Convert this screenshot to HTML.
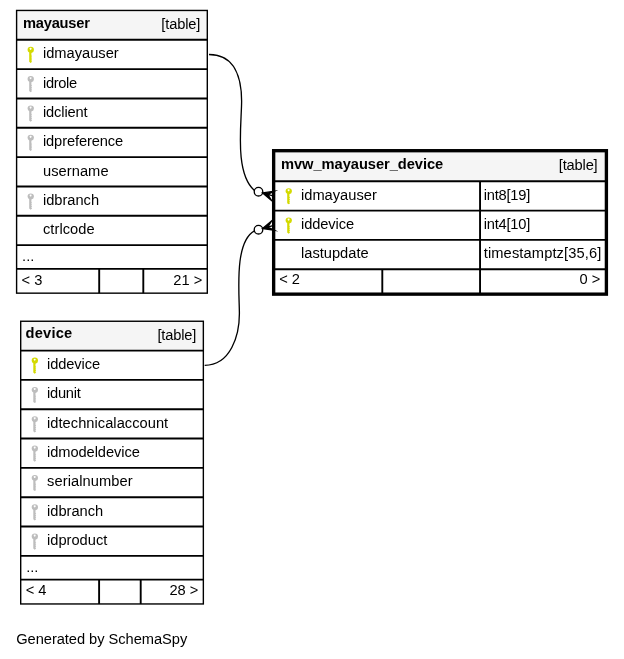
<!DOCTYPE html>
<html><head><meta charset="utf-8"><title>SchemaSpy diagram</title>
<style>html,body{margin:0;padding:0;background:#fff}svg{display:block}text{font-family:"Liberation Sans",sans-serif;fill:#000}svg{will-change:transform}</style></head>
<body>
<svg width="624" height="659" viewBox="0 0 624 659">
<rect width="624" height="659" fill="#fff"/>
<rect x="16.60" y="10.45" width="190.70" height="29.33" fill="#f5f5f5" stroke="none" stroke-width="1.33"/>
<text x="23.00" y="28.00" font-weight="bold" textLength="66.85" lengthAdjust="spacing" font-size="14.67">mayauser</text>
<text x="200.30" y="28.85" text-anchor="end" textLength="38.94" lengthAdjust="spacing" font-size="14.67">[table]</text>
<g transform="translate(27.50,46.78)" fill="#d4da00"><path fill-rule="evenodd" d="M3.25 0 A3.2 3.1 0 0 1 6.45 3.1 A3.2 3.1 0 0 1 3.9 6.1 L3.9 8.7 L4.6 9.3 L3.9 9.9 L3.9 10.7 L4.6 11.3 L3.9 11.9 L3.9 12.5 L4.6 13.1 L3.9 13.7 L3.9 14.4 L4.6 15 L3.1 16.2 L1.7 15 L1.7 5.7 A3.2 3.1 0 0 1 0.05 3.1 A3.2 3.1 0 0 1 3.25 0 Z M3.1 1.05 A0.95 0.95 0 1 0 3.11 1.05 Z"/></g>
<text x="42.95" y="58.00" font-size="14.67">idmayauser</text>
<g transform="translate(27.50,76.11)" fill="#bdbdbd"><path fill-rule="evenodd" d="M3.25 0 A3.2 3.1 0 0 1 6.45 3.1 A3.2 3.1 0 0 1 3.9 6.1 L3.9 8.7 L4.6 9.3 L3.9 9.9 L3.9 10.7 L4.6 11.3 L3.9 11.9 L3.9 12.5 L4.6 13.1 L3.9 13.7 L3.9 14.4 L4.6 15 L3.1 16.2 L1.7 15 L1.7 5.7 A3.2 3.1 0 0 1 0.05 3.1 A3.2 3.1 0 0 1 3.25 0 Z M3.1 1.05 A0.95 0.95 0 1 0 3.11 1.05 Z"/></g>
<text x="42.95" y="88.00" textLength="34.26" lengthAdjust="spacing" font-size="14.67">idrole</text>
<g transform="translate(27.50,105.44)" fill="#bdbdbd"><path fill-rule="evenodd" d="M3.25 0 A3.2 3.1 0 0 1 6.45 3.1 A3.2 3.1 0 0 1 3.9 6.1 L3.9 8.7 L4.6 9.3 L3.9 9.9 L3.9 10.7 L4.6 11.3 L3.9 11.9 L3.9 12.5 L4.6 13.1 L3.9 13.7 L3.9 14.4 L4.6 15 L3.1 16.2 L1.7 15 L1.7 5.7 A3.2 3.1 0 0 1 0.05 3.1 A3.2 3.1 0 0 1 3.25 0 Z M3.1 1.05 A0.95 0.95 0 1 0 3.11 1.05 Z"/></g>
<text x="42.95" y="117.00" textLength="44.73" lengthAdjust="spacing" font-size="14.67">idclient</text>
<g transform="translate(27.50,134.77)" fill="#bdbdbd"><path fill-rule="evenodd" d="M3.25 0 A3.2 3.1 0 0 1 6.45 3.1 A3.2 3.1 0 0 1 3.9 6.1 L3.9 8.7 L4.6 9.3 L3.9 9.9 L3.9 10.7 L4.6 11.3 L3.9 11.9 L3.9 12.5 L4.6 13.1 L3.9 13.7 L3.9 14.4 L4.6 15 L3.1 16.2 L1.7 15 L1.7 5.7 A3.2 3.1 0 0 1 0.05 3.1 A3.2 3.1 0 0 1 3.25 0 Z M3.1 1.05 A0.95 0.95 0 1 0 3.11 1.05 Z"/></g>
<text x="42.95" y="146.00" textLength="80.18" lengthAdjust="spacing" font-size="14.67">idpreference</text>
<text x="42.95" y="176.00" textLength="65.59" lengthAdjust="spacing" font-size="14.67">username</text>
<g transform="translate(27.50,193.43)" fill="#bdbdbd"><path fill-rule="evenodd" d="M3.25 0 A3.2 3.1 0 0 1 6.45 3.1 A3.2 3.1 0 0 1 3.9 6.1 L3.9 8.7 L4.6 9.3 L3.9 9.9 L3.9 10.7 L4.6 11.3 L3.9 11.9 L3.9 12.5 L4.6 13.1 L3.9 13.7 L3.9 14.4 L4.6 15 L3.1 16.2 L1.7 15 L1.7 5.7 A3.2 3.1 0 0 1 0.05 3.1 A3.2 3.1 0 0 1 3.25 0 Z M3.1 1.05 A0.95 0.95 0 1 0 3.11 1.05 Z"/></g>
<text x="42.95" y="205.00" textLength="56.13" lengthAdjust="spacing" font-size="14.67">idbranch</text>
<text x="42.95" y="234.00" textLength="51.73" lengthAdjust="spacing" font-size="14.67">ctrlcode</text>
<text x="22.10" y="261.39" fill="#505050" font-size="14.67">...</text>
<text x="21.60" y="284.66" font-size="14.67">&lt; 3</text>
<text x="202.30" y="284.66" text-anchor="end" font-size="14.67">21 &gt;</text>
<line x1="16.60" y1="39.78" x2="207.30" y2="39.78" stroke="#000" stroke-width="1.9"/>
<line x1="16.60" y1="69.11" x2="207.30" y2="69.11" stroke="#000" stroke-width="1.9"/>
<line x1="16.60" y1="98.44" x2="207.30" y2="98.44" stroke="#000" stroke-width="1.9"/>
<line x1="16.60" y1="127.77" x2="207.30" y2="127.77" stroke="#000" stroke-width="1.9"/>
<line x1="16.60" y1="157.10" x2="207.30" y2="157.10" stroke="#000" stroke-width="1.9"/>
<line x1="16.60" y1="186.43" x2="207.30" y2="186.43" stroke="#000" stroke-width="1.9"/>
<line x1="16.60" y1="215.76" x2="207.30" y2="215.76" stroke="#000" stroke-width="1.9"/>
<line x1="16.60" y1="245.09" x2="207.30" y2="245.09" stroke="#000" stroke-width="1.9"/>
<line x1="16.60" y1="268.86" x2="207.30" y2="268.86" stroke="#000" stroke-width="1.9"/>
<line x1="99.20" y1="268.86" x2="99.20" y2="293.16" stroke="#000" stroke-width="1.9"/>
<line x1="143.30" y1="268.86" x2="143.30" y2="293.16" stroke="#000" stroke-width="1.9"/>
<rect x="16.60" y="10.45" width="190.70" height="282.71" fill="none" stroke="#000" stroke-width="1.4"/>
<rect x="20.70" y="321.25" width="182.65" height="29.33" fill="#f5f5f5" stroke="none" stroke-width="1.33"/>
<text x="25.60" y="338.00" font-weight="bold" textLength="46.64" lengthAdjust="spacing" font-size="14.67">device</text>
<text x="196.35" y="339.65" text-anchor="end" textLength="38.94" lengthAdjust="spacing" font-size="14.67">[table]</text>
<g transform="translate(31.60,357.58)" fill="#d4da00"><path fill-rule="evenodd" d="M3.25 0 A3.2 3.1 0 0 1 6.45 3.1 A3.2 3.1 0 0 1 3.9 6.1 L3.9 8.7 L4.6 9.3 L3.9 9.9 L3.9 10.7 L4.6 11.3 L3.9 11.9 L3.9 12.5 L4.6 13.1 L3.9 13.7 L3.9 14.4 L4.6 15 L3.1 16.2 L1.7 15 L1.7 5.7 A3.2 3.1 0 0 1 0.05 3.1 A3.2 3.1 0 0 1 3.25 0 Z M3.1 1.05 A0.95 0.95 0 1 0 3.11 1.05 Z"/></g>
<text x="47.00" y="369.00" textLength="53.18" lengthAdjust="spacing" font-size="14.67">iddevice</text>
<g transform="translate(31.60,386.91)" fill="#bdbdbd"><path fill-rule="evenodd" d="M3.25 0 A3.2 3.1 0 0 1 6.45 3.1 A3.2 3.1 0 0 1 3.9 6.1 L3.9 8.7 L4.6 9.3 L3.9 9.9 L3.9 10.7 L4.6 11.3 L3.9 11.9 L3.9 12.5 L4.6 13.1 L3.9 13.7 L3.9 14.4 L4.6 15 L3.1 16.2 L1.7 15 L1.7 5.7 A3.2 3.1 0 0 1 0.05 3.1 A3.2 3.1 0 0 1 3.25 0 Z M3.1 1.05 A0.95 0.95 0 1 0 3.11 1.05 Z"/></g>
<text x="47.00" y="398.00" textLength="33.85" lengthAdjust="spacing" font-size="14.67">idunit</text>
<g transform="translate(31.60,416.24)" fill="#bdbdbd"><path fill-rule="evenodd" d="M3.25 0 A3.2 3.1 0 0 1 6.45 3.1 A3.2 3.1 0 0 1 3.9 6.1 L3.9 8.7 L4.6 9.3 L3.9 9.9 L3.9 10.7 L4.6 11.3 L3.9 11.9 L3.9 12.5 L4.6 13.1 L3.9 13.7 L3.9 14.4 L4.6 15 L3.1 16.2 L1.7 15 L1.7 5.7 A3.2 3.1 0 0 1 0.05 3.1 A3.2 3.1 0 0 1 3.25 0 Z M3.1 1.05 A0.95 0.95 0 1 0 3.11 1.05 Z"/></g>
<text x="47.00" y="428.00" textLength="121.19" lengthAdjust="spacing" font-size="14.67">idtechnicalaccount</text>
<g transform="translate(31.60,445.57)" fill="#bdbdbd"><path fill-rule="evenodd" d="M3.25 0 A3.2 3.1 0 0 1 6.45 3.1 A3.2 3.1 0 0 1 3.9 6.1 L3.9 8.7 L4.6 9.3 L3.9 9.9 L3.9 10.7 L4.6 11.3 L3.9 11.9 L3.9 12.5 L4.6 13.1 L3.9 13.7 L3.9 14.4 L4.6 15 L3.1 16.2 L1.7 15 L1.7 5.7 A3.2 3.1 0 0 1 0.05 3.1 A3.2 3.1 0 0 1 3.25 0 Z M3.1 1.05 A0.95 0.95 0 1 0 3.11 1.05 Z"/></g>
<text x="47.00" y="457.00" textLength="92.80" lengthAdjust="spacing" font-size="14.67">idmodeldevice</text>
<g transform="translate(31.60,474.90)" fill="#bdbdbd"><path fill-rule="evenodd" d="M3.25 0 A3.2 3.1 0 0 1 6.45 3.1 A3.2 3.1 0 0 1 3.9 6.1 L3.9 8.7 L4.6 9.3 L3.9 9.9 L3.9 10.7 L4.6 11.3 L3.9 11.9 L3.9 12.5 L4.6 13.1 L3.9 13.7 L3.9 14.4 L4.6 15 L3.1 16.2 L1.7 15 L1.7 5.7 A3.2 3.1 0 0 1 0.05 3.1 A3.2 3.1 0 0 1 3.25 0 Z M3.1 1.05 A0.95 0.95 0 1 0 3.11 1.05 Z"/></g>
<text x="47.00" y="486.00" textLength="85.72" lengthAdjust="spacing" font-size="14.67">serialnumber</text>
<g transform="translate(31.60,504.23)" fill="#bdbdbd"><path fill-rule="evenodd" d="M3.25 0 A3.2 3.1 0 0 1 6.45 3.1 A3.2 3.1 0 0 1 3.9 6.1 L3.9 8.7 L4.6 9.3 L3.9 9.9 L3.9 10.7 L4.6 11.3 L3.9 11.9 L3.9 12.5 L4.6 13.1 L3.9 13.7 L3.9 14.4 L4.6 15 L3.1 16.2 L1.7 15 L1.7 5.7 A3.2 3.1 0 0 1 0.05 3.1 A3.2 3.1 0 0 1 3.25 0 Z M3.1 1.05 A0.95 0.95 0 1 0 3.11 1.05 Z"/></g>
<text x="47.00" y="516.00" textLength="56.13" lengthAdjust="spacing" font-size="14.67">idbranch</text>
<g transform="translate(31.60,533.56)" fill="#bdbdbd"><path fill-rule="evenodd" d="M3.25 0 A3.2 3.1 0 0 1 6.45 3.1 A3.2 3.1 0 0 1 3.9 6.1 L3.9 8.7 L4.6 9.3 L3.9 9.9 L3.9 10.7 L4.6 11.3 L3.9 11.9 L3.9 12.5 L4.6 13.1 L3.9 13.7 L3.9 14.4 L4.6 15 L3.1 16.2 L1.7 15 L1.7 5.7 A3.2 3.1 0 0 1 0.05 3.1 A3.2 3.1 0 0 1 3.25 0 Z M3.1 1.05 A0.95 0.95 0 1 0 3.11 1.05 Z"/></g>
<text x="47.00" y="545.00" font-size="14.67">idproduct</text>
<text x="26.20" y="572.19" fill="#505050" font-size="14.67">...</text>
<text x="25.70" y="595.46" font-size="14.67">&lt; 4</text>
<text x="198.35" y="595.46" text-anchor="end" font-size="14.67">28 &gt;</text>
<line x1="20.70" y1="350.58" x2="203.35" y2="350.58" stroke="#000" stroke-width="1.9"/>
<line x1="20.70" y1="379.91" x2="203.35" y2="379.91" stroke="#000" stroke-width="1.9"/>
<line x1="20.70" y1="409.24" x2="203.35" y2="409.24" stroke="#000" stroke-width="1.9"/>
<line x1="20.70" y1="438.57" x2="203.35" y2="438.57" stroke="#000" stroke-width="1.9"/>
<line x1="20.70" y1="467.90" x2="203.35" y2="467.90" stroke="#000" stroke-width="1.9"/>
<line x1="20.70" y1="497.23" x2="203.35" y2="497.23" stroke="#000" stroke-width="1.9"/>
<line x1="20.70" y1="526.56" x2="203.35" y2="526.56" stroke="#000" stroke-width="1.9"/>
<line x1="20.70" y1="555.89" x2="203.35" y2="555.89" stroke="#000" stroke-width="1.9"/>
<line x1="20.70" y1="579.66" x2="203.35" y2="579.66" stroke="#000" stroke-width="1.9"/>
<line x1="99.10" y1="579.66" x2="99.10" y2="603.96" stroke="#000" stroke-width="1.9"/>
<line x1="140.70" y1="579.66" x2="140.70" y2="603.96" stroke="#000" stroke-width="1.9"/>
<rect x="20.70" y="321.25" width="182.65" height="282.71" fill="none" stroke="#000" stroke-width="1.4"/>
<rect x="273.65" y="150.70" width="332.75" height="30.55" fill="#f5f5f5" stroke="none" stroke-width="1.33"/>
<text x="281.00" y="169.00" font-weight="bold" textLength="162.17" lengthAdjust="spacing" font-size="14.67">mvw_mayauser_device</text>
<text x="597.70" y="170.20" text-anchor="end" textLength="38.94" lengthAdjust="spacing" font-size="14.67">[table]</text>
<g transform="translate(285.50,188.15)" fill="#d4da00"><path fill-rule="evenodd" d="M3.25 0 A3.2 3.1 0 0 1 6.45 3.1 A3.2 3.1 0 0 1 3.9 6.1 L3.9 8.7 L4.6 9.3 L3.9 9.9 L3.9 10.7 L4.6 11.3 L3.9 11.9 L3.9 12.5 L4.6 13.1 L3.9 13.7 L3.9 14.4 L4.6 15 L3.1 16.2 L1.7 15 L1.7 5.7 A3.2 3.1 0 0 1 0.05 3.1 A3.2 3.1 0 0 1 3.25 0 Z M3.1 1.05 A0.95 0.95 0 1 0 3.11 1.05 Z"/></g>
<text x="301.00" y="200.00" font-size="14.67">idmayauser</text>
<text x="483.70" y="200.00" textLength="46.58" lengthAdjust="spacing" font-size="14.67">int8[19]</text>
<g transform="translate(285.50,217.48)" fill="#d4da00"><path fill-rule="evenodd" d="M3.25 0 A3.2 3.1 0 0 1 6.45 3.1 A3.2 3.1 0 0 1 3.9 6.1 L3.9 8.7 L4.6 9.3 L3.9 9.9 L3.9 10.7 L4.6 11.3 L3.9 11.9 L3.9 12.5 L4.6 13.1 L3.9 13.7 L3.9 14.4 L4.6 15 L3.1 16.2 L1.7 15 L1.7 5.7 A3.2 3.1 0 0 1 0.05 3.1 A3.2 3.1 0 0 1 3.25 0 Z M3.1 1.05 A0.95 0.95 0 1 0 3.11 1.05 Z"/></g>
<text x="301.00" y="229.00" textLength="53.18" lengthAdjust="spacing" font-size="14.67">iddevice</text>
<text x="483.70" y="229.00" textLength="46.58" lengthAdjust="spacing" font-size="14.67">int4[10]</text>
<text x="301.00" y="258.00" font-size="14.67">lastupdate</text>
<text x="483.70" y="258.00" textLength="117.67" lengthAdjust="spacing" font-size="14.67">timestamptz[35,6]</text>
<text x="279.20" y="284.44" font-size="14.67">&lt; 2</text>
<text x="600.40" y="284.44" text-anchor="end" font-size="14.67">0 &gt;</text>
<line x1="273.65" y1="181.25" x2="606.40" y2="181.25" stroke="#000" stroke-width="1.9"/>
<line x1="273.65" y1="210.58" x2="606.40" y2="210.58" stroke="#000" stroke-width="1.9"/>
<line x1="273.65" y1="239.91" x2="606.40" y2="239.91" stroke="#000" stroke-width="1.9"/>
<line x1="273.65" y1="269.24" x2="606.40" y2="269.24" stroke="#000" stroke-width="1.9"/>
<line x1="480.05" y1="181.25" x2="480.05" y2="294.15" stroke="#000" stroke-width="1.9"/>
<line x1="382.30" y1="269.24" x2="382.30" y2="294.15" stroke="#000" stroke-width="1.9"/>
<rect x="273.65" y="150.70" width="332.75" height="143.45" fill="none" stroke="#000" stroke-width="3.35"/>
<path d="M209.00,54.50 C235.58,54.50 241.62,79.13 241.62,101.33 C241.62,123.23 234.27,172.97 254.40,190.50" fill="none" stroke="#000" stroke-width="1.33"/>
<path d="M204.70,365.30 C230.79,365.30 239.39,335.04 239.39,313.77 C239.39,292.94 234.01,242.30 254.40,230.90" fill="none" stroke="#000" stroke-width="1.33"/>
<circle cx="258.50" cy="191.70" r="4.27" fill="#fff" stroke="#000" stroke-width="1.33"/>
<path d="M262.60,192.88 L274.18,191.20 L267.73,194.35 L272.86,195.82 L267.73,194.35 L271.54,200.43 Z" fill="#000" stroke="#000" stroke-width="1.33" stroke-linejoin="miter" stroke-miterlimit="10"/>
<circle cx="258.50" cy="229.70" r="4.27" fill="#fff" stroke="#000" stroke-width="1.33"/>
<path d="M262.60,228.52 L271.54,220.97 L267.73,227.05 L272.86,225.58 L267.73,227.05 L274.18,230.20 Z" fill="#000" stroke="#000" stroke-width="1.33" stroke-linejoin="miter" stroke-miterlimit="10"/>
<text x="16.20" y="644.00" textLength="171.01" lengthAdjust="spacing" font-size="14.67">Generated by SchemaSpy</text>
</svg>
</body></html>
